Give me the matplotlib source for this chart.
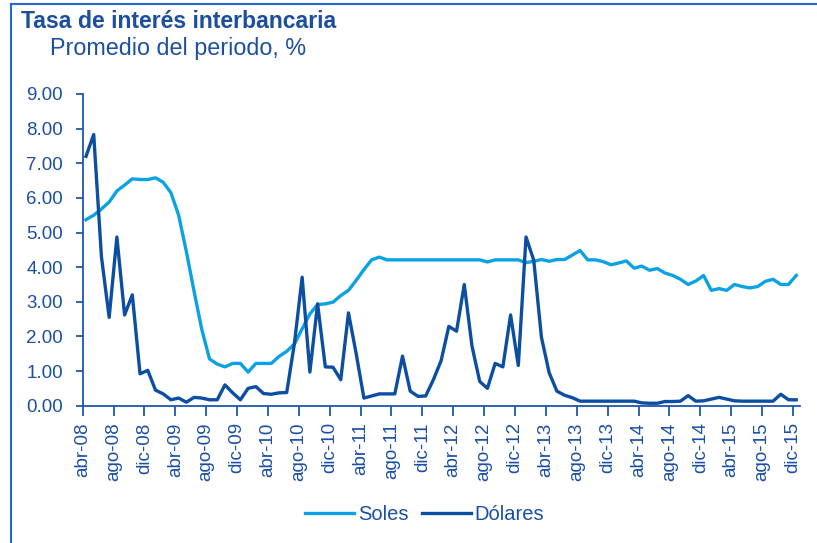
import numpy as np
import matplotlib
matplotlib.use("Agg")
import matplotlib.pyplot as plt
from matplotlib.lines import Line2D

plt.rcParams['font.family'] = ['Liberation Sans', 'DejaVu Sans']

# Monthly data, abr-08 .. dic-15
soles = [5.37, 5.50, 5.68, 5.88, 6.20, 6.37, 6.55, 6.53, 6.53, 6.58, 6.45, 6.15,
         5.50, 4.45, 3.30, 2.20, 1.35, 1.20, 1.12, 1.22, 1.22, 0.97, 1.22, 1.22,
         1.22, 1.42, 1.57, 1.78, 2.22, 2.65, 2.92, 2.94, 2.99, 3.18, 3.33, 3.62,
         3.93, 4.21, 4.29, 4.21, 4.21, 4.21, 4.21, 4.21, 4.21, 4.21, 4.21, 4.21,
         4.21, 4.21, 4.21, 4.21, 4.15, 4.21, 4.21, 4.21, 4.21, 4.13, 4.17, 4.22,
         4.17, 4.22, 4.22, 4.35, 4.48, 4.21, 4.21, 4.16, 4.07, 4.12, 4.18, 3.97,
         4.03, 3.91, 3.96, 3.83, 3.76, 3.65, 3.50, 3.60, 3.76, 3.33, 3.38, 3.33,
         3.50, 3.44, 3.40, 3.44, 3.59, 3.65, 3.50, 3.50, 3.76]

dolares = [7.20, 7.83, 4.30, 2.55, 4.87, 2.62, 3.20, 0.92, 1.02, 0.45, 0.34, 0.17,
           0.22, 0.10, 0.24, 0.22, 0.17, 0.17, 0.60, 0.37, 0.17, 0.50, 0.55, 0.35,
           0.33, 0.37, 0.38, 1.80, 3.71, 0.97, 2.94, 1.12, 1.11, 0.75, 2.68, 1.50,
           0.22, 0.28, 0.34, 0.34, 0.34, 1.43, 0.42, 0.27, 0.28, 0.75, 1.30, 2.29,
           2.15, 3.50, 1.72, 0.70, 0.50, 1.22, 1.12, 2.62, 1.16, 4.87, 4.20, 1.97,
           0.95, 0.42, 0.30, 0.23, 0.13, 0.13, 0.13, 0.13, 0.13, 0.13, 0.13, 0.13,
           0.08, 0.07, 0.07, 0.12, 0.12, 0.13, 0.29, 0.13, 0.14, 0.19, 0.24, 0.19,
           0.14, 0.13, 0.13, 0.13, 0.13, 0.13, 0.33, 0.17, 0.17]

tick_labels = ['abr-08', 'ago-08', 'dic-08', 'abr-09', 'ago-09', 'dic-09',
               'abr-10', 'ago-10', 'dic-10', 'abr-11', 'ago-11', 'dic-11',
               'abr-12', 'ago-12', 'dic-12', 'abr-13', 'ago-13', 'dic-13',
               'abr-14', 'ago-14', 'dic-14', 'abr-15', 'ago-15', 'dic-15']

c_soles = '#0BA2E4'
c_dol = '#0B4EA2'
c_axis = '#1F56AD'
c_text = '#1A4FA5'

x = np.arange(len(soles))

fig = plt.figure(figsize=(8.17, 5.43), dpi=100)
ax = fig.add_axes([0.1012, 0.2529, 0.8778, 0.5740])

ax.plot(x + 0.43, soles, color=c_soles, lw=2.4, label='Soles', solid_joinstyle='round')
ax.plot(x + 0.43, dolares, color=c_dol, lw=2.4, label='Dólares', solid_joinstyle='round')

ax.set_xlim(0, 92.9)
ax.set_ylim(0, 9)
ax.set_yticks(np.arange(0, 9.01, 1))
ax.set_yticklabels([f'{v:.2f}' for v in np.arange(0, 9.01, 1)])
ax.set_xticks(np.arange(0, len(soles), 4))
ax.set_xticklabels(tick_labels, rotation=90)

for s in ['top', 'right']:
    ax.spines[s].set_visible(False)
for s in ['left', 'bottom']:
    ax.spines[s].set_color(c_axis)
    ax.spines[s].set_linewidth(1.3)

ax.tick_params(axis='y', colors=c_axis, labelcolor=c_text, labelsize=13.5,
               length=5, width=1.3, pad=9)
ax.tick_params(axis='x', colors=c_axis, labelcolor=c_text, labelsize=13.5,
               length=7, width=1.3, pad=5)

fig.text(0.0253, 0.9484, 'Tasa de interés interbancaria', fontsize=16.6,
         fontweight='bold', color='#1C4E9F', va='baseline')
fig.text(0.0612, 0.8987, 'Promedio del periodo, %', fontsize=16.8,
         color=c_text, va='baseline')

fig.legend(loc='center', bbox_to_anchor=(0.52, 0.0516), ncol=2, frameon=False,
           fontsize=14.5, handlelength=2.4, handletextpad=0.2, columnspacing=0.7,
           labelcolor=c_text)

# frame around the chart (top and left edges visible)
fig.add_artist(Line2D([0.0131, 1.0], [0.9926, 0.9926], color='#2468D0', lw=1.5))
fig.add_artist(Line2D([0.0131, 0.0131], [0.0, 0.9926], color='#2468D0', lw=1.5))

fig.savefig('out.png', dpi=100)
